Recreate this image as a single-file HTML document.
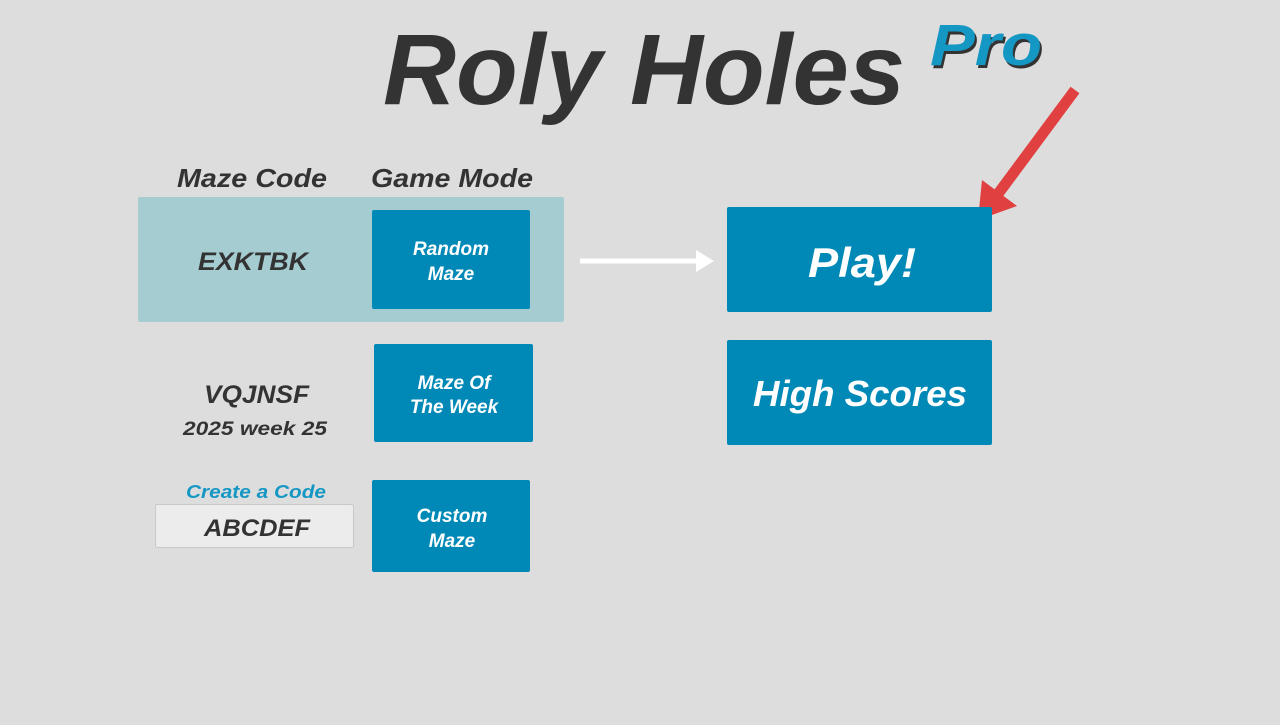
<!DOCTYPE html>
<html><head><style>
body{margin:0;width:1280px;height:720px;background:#dddddd;overflow:hidden;font-family:"Liberation Sans",sans-serif}
</style></head><body>
<svg width="1280" height="720" viewBox="0 0 1280 720" xmlns="http://www.w3.org/2000/svg" font-family="Liberation Sans, sans-serif" font-weight="bold" font-style="italic">
<text x="383" y="104" font-size="100" fill="#333" textLength="522" lengthAdjust="spacingAndGlyphs">Roly Holes</text>
<text x="932" y="68" font-size="58" fill="#333" textLength="112" lengthAdjust="spacingAndGlyphs">Pro</text>
<text x="930" y="65" font-size="58" fill="#1597c4" textLength="112" lengthAdjust="spacingAndGlyphs">Pro</text>
<line x1="1075" y1="90" x2="992" y2="202" stroke="#e04040" stroke-width="11"/>
<polygon points="978,220 982,180 1017,206" fill="#e04040"/>
<text x="177" y="187" font-size="26" fill="#333" textLength="150" lengthAdjust="spacingAndGlyphs">Maze Code</text>
<text x="371" y="187" font-size="26" fill="#333" textLength="162" lengthAdjust="spacingAndGlyphs">Game Mode</text>
<rect x="138" y="197" width="426" height="125" rx="2" fill="#a4ccd1"/>
<text x="198" y="270" font-size="25" fill="#333" textLength="110" lengthAdjust="spacingAndGlyphs">EXKTBK</text>
<rect x="372" y="210" width="158" height="99" rx="2" fill="#0089b6"/>
<text x="451" y="255" font-size="19" fill="#fff" text-anchor="middle">Random</text>
<text x="451" y="280" font-size="19" fill="#fff" text-anchor="middle">Maze</text>
<line x1="580" y1="261" x2="698" y2="261" stroke="#fff" stroke-width="5"/>
<polygon points="714,261 696,250 696,272" fill="#fff"/>
<rect x="727" y="207" width="265" height="105" rx="2" fill="#0089b6"/>
<text x="862" y="277" font-size="42" fill="#fff" text-anchor="middle" textLength="108" lengthAdjust="spacingAndGlyphs">Play!</text>
<rect x="727" y="340" width="265" height="105" rx="2" fill="#0089b6"/>
<text x="860" y="406" font-size="36" fill="#fff" text-anchor="middle" textLength="214" lengthAdjust="spacingAndGlyphs">High Scores</text>
<text x="204" y="403" font-size="25" fill="#333" textLength="105" lengthAdjust="spacingAndGlyphs">VQJNSF</text>
<text x="183" y="435" font-size="19" fill="#333" textLength="144" lengthAdjust="spacingAndGlyphs">2025 week 25</text>
<rect x="374" y="344" width="159" height="98" rx="2" fill="#0089b6"/>
<text x="454" y="389" font-size="19" fill="#fff" text-anchor="middle">Maze Of</text>
<text x="454" y="413" font-size="19" fill="#fff" text-anchor="middle">The Week</text>
<text x="186" y="498" font-size="18" fill="#1597c4" textLength="140" lengthAdjust="spacingAndGlyphs">Create a Code</text>
<rect x="155.5" y="504.5" width="198" height="43" rx="2" fill="#ececec" stroke="#c8c8c8"/>
<text x="204" y="536" font-size="24" fill="#333" textLength="106" lengthAdjust="spacingAndGlyphs">ABCDEF</text>
<rect x="372" y="480" width="158" height="92" rx="2" fill="#0089b6"/>
<text x="452" y="522" font-size="19" fill="#fff" text-anchor="middle">Custom</text>
<text x="452" y="547" font-size="19" fill="#fff" text-anchor="middle">Maze</text>
</svg>
</body></html>
